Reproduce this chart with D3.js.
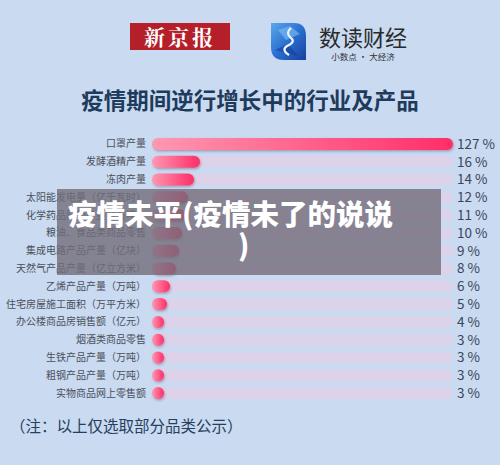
<!DOCTYPE html>
<html><head><meta charset="utf-8">
<script src="https://cdn.jsdelivr.net/npm/d3@7"></script>
<style>
html,body{margin:0;padding:0;background:#c9daf1;}
svg{display:block;font-family:"Noto Sans CJK SC","Noto Sans",sans-serif;}
</style></head><body>
<script>
const categories = ["口罩产量","发酵酒精产量","冻肉产量","太阳能发电量（亿千瓦时）","化学药品原药产量（万吨）","粮油、食品类商品零售","集成电路产品产量（亿块）","天然气产品产量（亿立方米）","乙烯产品产量（万吨）","住宅房屋施工面积（万平方米）","办公楼商品房销售额（亿元）","烟酒类商品零售","生铁产品产量（万吨）","粗钢产品产量（万吨）","实物商品网上零售额"];
const values = [127,16,14,12,11,10,9,8,6,5,4,3,3,3,3];
const title = "疫情期间逆行增长中的行业及产品";
const note = "（注：以上仅选取部分品类公示）";
const overlayText = ["疫情未平(疫情未了的说说", ")"];

const W=500,H=465;
const svg=d3.select("body").append("svg").attr("width",W).attr("height",H);
svg.append("rect").attr("width",W).attr("height",H).attr("fill","#c9daf1");
const defs=svg.append("defs");
const g1=defs.append("linearGradient").attr("id","barg").attr("x1","0").attr("x2","1");
g1.append("stop").attr("offset","0").attr("stop-color","#ff98b2");
g1.append("stop").attr("offset","1").attr("stop-color","#ff2d68");
const f=defs.append("filter").attr("id","sh").attr("x","-20%").attr("y","-50%").attr("width","140%").attr("height","200%");
f.append("feDropShadow").attr("dx",1).attr("dy",1.5).attr("stdDeviation",1.2).attr("flood-color","#6a5070").attr("flood-opacity",0.45);
const lg=defs.append("linearGradient").attr("id","logog").attr("x1","0").attr("y1","0").attr("x2","1").attr("y2","1");
lg.append("stop").attr("offset","0").attr("stop-color","#5aa8ec");
lg.append("stop").attr("offset","0.5").attr("stop-color","#2a6fd0");
lg.append("stop").attr("offset","1").attr("stop-color","#173f9c");

// header logos
svg.append("rect").attr("x",130).attr("y",23).attr("width",100).attr("height",27).attr("fill","#b51f2a");
svg.append("text").attr("x",180).attr("y",44.5).attr("text-anchor","middle").attr("fill","#fff")
  .attr("font-family","'Noto Serif CJK SC','Noto Sans CJK SC',serif").attr("font-weight","bold").attr("font-size",21).attr("letter-spacing",3).text("新京报");
svg.append("path").attr("d","M271,23 L294,23 Q306,23 306,36 L306,60 L284,60 Q271,60 271,47 Z").attr("fill","url(#logog)");
svg.append("path").attr("d","M278,30 L290,26 L300,34 L286,40 Z").attr("fill","#7fc0f5").attr("opacity",0.6);
svg.append("path").attr("d","M275,50 L288,44 L298,56 Z").attr("fill","#0f3590").attr("opacity",0.5);
svg.append("path").attr("d","M291,28 Q285,33 291,38 Q296,42 287,46 Q281,50 289,55").attr("fill","none").attr("stroke","#eef5ff").attr("stroke-width",2.2);
svg.append("text").attr("x",319).attr("y",46).attr("fill","#2a2a2a").attr("font-size",22).text("数读财经");
svg.append("text").attr("x",363).attr("y",60).attr("text-anchor","middle").attr("fill","#333").attr("font-size",8.5).text("小数点 · 大经济");

svg.append("text").attr("x",250).attr("y",109).attr("text-anchor","middle").attr("fill","#1f3b5c")
  .attr("font-size",22.5).attr("font-weight","bold").text(title);

// chart
const x0=152,trackW=301;
const y=d3.scaleBand().domain(categories).range([135,402]).paddingInner(0.3).paddingOuter(0.15);
const x=d3.scaleLinear().domain([0,100]).range([0,300]).clamp(true);
const bh=12;
const rows=svg.append("g");
const row=rows.selectAll("g").data(categories).join("g")
  .attr("transform",d=>`translate(0,${y(d)+y.bandwidth()/2})`);
row.append("rect").attr("x",x0).attr("y",-bh/2).attr("width",trackW).attr("height",bh).attr("rx",6).attr("fill","#dcd3ea");
row.append("rect").attr("x",x0).attr("y",-bh/2).attr("width",(d,i)=>Math.max(bh,x(values[i])+ (values[i]>100?trackW-300:0)))
  .attr("height",bh).attr("rx",6).attr("fill","url(#barg)").attr("filter","url(#sh)");
row.append("text").attr("x",146).attr("y",0).attr("dy","0.35em").attr("text-anchor","end").attr("fill","#4a4f5a").attr("font-size",10).text(d=>d);
row.append("text").attr("x",457).attr("y",0).attr("dy","0.36em").attr("fill","#3b4658").attr("font-size",13.5).text((d,i)=>values[i]+" %");

svg.append("text").attr("x",10).attr("y",432).attr("fill","#263f5e").attr("font-size",15.5).text(note);

// overlay
svg.append("rect").attr("x",57).attr("y",189).attr("width",384).attr("height",86).attr("fill","#736d7a").attr("opacity",0.8);
svg.append("text").attr("x",68).attr("y",225).attr("fill","#fff").attr("font-size",28.5).attr("font-weight","900").text(overlayText[0]);
svg.append("text").attr("x",238).attr("y",256).attr("fill","#fff").attr("font-size",28.5).attr("font-weight","900").text(overlayText[1]);
</script>
</body></html>
